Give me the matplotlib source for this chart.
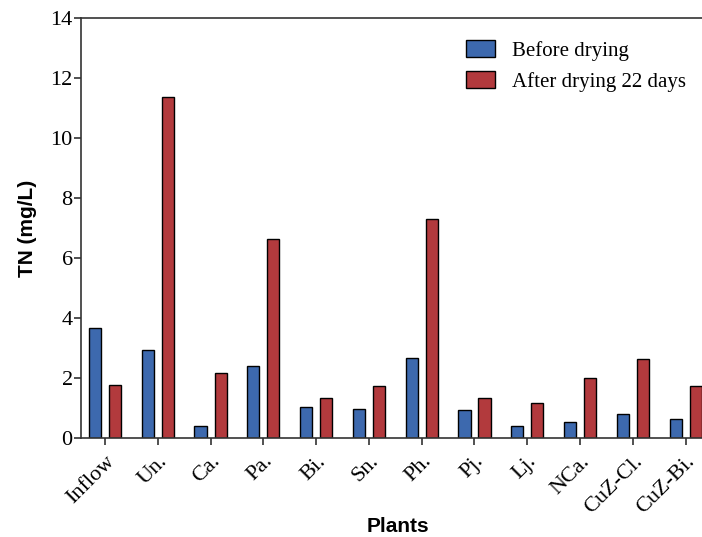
import numpy as np
import matplotlib.pyplot as plt
from matplotlib.patches import Patch

plants = ['Inflow', 'Un.', 'Ca.', 'Pa.', 'Bi.', 'Sn.', 'Ph.', 'Pj.', 'Lj.',
          'NCa.', 'CuZ-Cl.', 'CuZ-Bi.']
before = [3.67, 2.93, 0.40, 2.39, 1.03, 0.97, 2.67, 0.92, 0.40, 0.52, 0.81, 0.64]
after = [1.77, 11.37, 2.16, 6.63, 1.32, 1.72, 7.30, 1.34, 1.18, 2.00, 2.62, 1.72]

blue = '#3d69ae'
red = '#b23a3d'

fig = plt.figure(figsize=(7.02, 5.37), dpi=100)
ax = fig.add_axes([81 / 702, 99 / 537, 631 / 702, 420 / 537])

x = np.arange(len(plants))
w = 0.23
ax.bar(x - 0.19, before, w, color=blue, edgecolor='black', linewidth=1.0)
ax.bar(x + 0.19, after, w, color=red, edgecolor='black', linewidth=1.0)

ax.set_xlim(-0.455, 11.5)
ax.set_ylim(0, 14)
ax.set_yticks(range(0, 15, 2))
ax.set_xticks(x)
ax.set_xticklabels(plants, rotation=45, ha='right', rotation_mode='anchor',
                   family='Liberation Serif', fontsize=16)
for lab in ax.get_yticklabels():
    lab.set_family('Liberation Serif')
    lab.set_fontsize(16)
ax.tick_params(axis='both', direction='out', length=5, width=1.2, color='#333333', pad=1)
ax.tick_params(axis='x', pad=5)

for s in ['left', 'bottom', 'top']:
    ax.spines[s].set_linewidth(1.2)
    ax.spines[s].set_color('#333333')
ax.spines['right'].set_visible(False)

ax.set_ylabel('TN (mg/L)', family='Liberation Sans', fontweight='bold', fontsize=15, labelpad=10)
fig.text(398 / 702, 10 / 537, 'Plants', ha='center', va='center',
         family='Liberation Sans', fontweight='bold', fontsize=15)

handles = [Patch(facecolor=blue, edgecolor='black', label='Before drying'),
           Patch(facecolor=red, edgecolor='black', label='After drying 22 days')]
ax.legend(handles=handles, loc='upper left', bbox_to_anchor=(0.58, 0.992), frameon=False,
          prop={'family': 'Liberation Serif', 'size': 15},
          handlelength=1.4, handleheight=0.85, handletextpad=0.8, labelspacing=0.5)

fig.savefig('out.png', dpi=100)
